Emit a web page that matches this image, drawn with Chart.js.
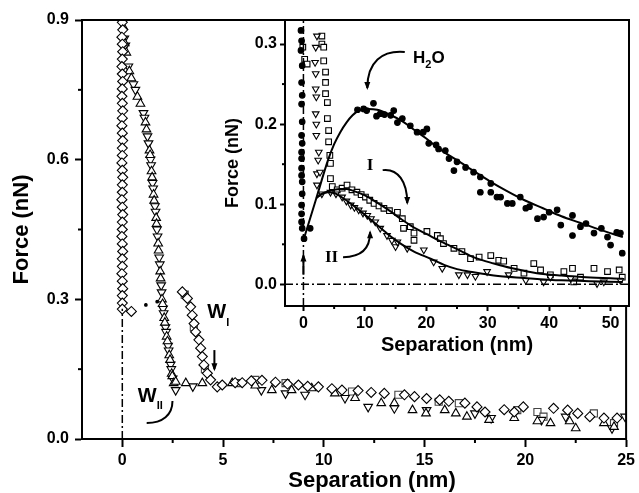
<!DOCTYPE html>
<html>
<head>
<meta charset="utf-8">
<script src="https://cdn.jsdelivr.net/npm/chart.js@4.4.0/dist/chart.umd.min.js"></script>
<style>
  html, body { margin: 0; padding: 0; background: #fff; }
  #wrap { position: relative; width: 639px; height: 493px; }
  #main { position: absolute; left: 0; top: 0; }
  #inset { position: absolute; left: 220px; top: 0; }
</style>
</head>
<body>
<div id="wrap">
  <canvas id="main" width="639" height="493"></canvas>
  <canvas id="inset" width="419" height="360"></canvas>
</div>
<script>
// ---- main plot data (separation nm, force nN) ----
const mainXTicks = [0, 5, 10, 15, 20, 25];
const mainXMinor = [2.5, 7.5, 12.5, 17.5, 22.5];
const mainYTicks = [0, 0.3, 0.6, 0.9];
const mainYMinor = [0.15, 0.45, 0.75];

const mainDiamond = [
  [0,0.895],[0.02,0.879],[-0.02,0.863],[0,0.848],[0.02,0.832],[0,0.816],[-0.02,0.8],[0,0.784],
  [0.02,0.768],[0,0.752],[-0.02,0.736],[0,0.721],[0.02,0.705],[0,0.689],[-0.02,0.673],[0,0.657],
  [0.02,0.641],[0,0.625],[0,0.609],[-0.02,0.593],[0,0.577],[0.02,0.562],[0,0.546],[0,0.53],
  [-0.02,0.514],[0,0.498],[0.02,0.482],[0,0.466],[0,0.45],[-0.02,0.435],[0,0.419],[0.02,0.403],
  [0,0.387],[0,0.371],[-0.02,0.355],[0,0.339],[0.02,0.323],[0,0.308],[0,0.292],[0,0.279],
  [0.45,0.274],
  [2.98,0.316],[3.23,0.302],[3.39,0.284],[3.47,0.266],[3.56,0.248],[3.64,0.23],[3.8,0.213],
  [3.89,0.195],[3.97,0.177],[4.05,0.159],[4.22,0.141],[4.38,0.127],[4.71,0.112],[4.96,0.116],
  [5.6,0.121],[5.95,0.121],[6.4,0.125],[6.93,0.126],[7.6,0.122],[8.2,0.118],[8.74,0.116],
  [9.2,0.113],[9.73,0.112],[10.4,0.108],[10.9,0.105],[11.7,0.104],[12.35,0.1],[13.0,0.098],
  [14.0,0.095],[14.5,0.091],[15.1,0.087],[15.75,0.084],[16.2,0.081],[17.0,0.077],[17.6,0.069],
  [18.0,0.058],[18.95,0.063],[19.45,0.058],[19.9,0.069],[21.4,0.066],[22.1,0.062],[22.6,0.055],
  [23.2,0.048],[23.9,0.045],[24.55,0.045]
];
const mainTriUp = [
  [0.05,0.885],[0.12,0.85],[0.2,0.83],[0.35,0.79],[0.45,0.775],[0.75,0.735],[0.9,0.72],[1.15,0.68],
  [1.2,0.665],[1.35,0.62],[1.38,0.61],[1.45,0.575],[1.48,0.562],[1.55,0.525],[1.58,0.512],
  [1.68,0.475],[1.7,0.462],[1.78,0.42],[1.8,0.405],[1.88,0.36],[1.9,0.345],[1.97,0.3],[2.0,0.29],
  [2.08,0.26],[2.11,0.25],[2.2,0.22],[2.24,0.21],[2.33,0.18],[2.37,0.17],[2.45,0.14],[2.48,0.135],
  [2.55,0.12],[2.65,0.123],[3.15,0.12],[3.97,0.12],[5.45,0.12],[6.6,0.115],[7.42,0.105],[8.4,0.105],
  [9.4,0.109],[10.55,0.098],[11.55,0.088],[12.85,0.077],[13.5,0.077],[14.4,0.062],[15.07,0.055],
  [16.0,0.062],[16.55,0.055],[17.1,0.048],[18.2,0.041],[19.45,0.045],[20.6,0.038],[21.25,0.034],
  [22.2,0.038],[22.5,0.023],[23.9,0.034],[24.4,0.026]
];
const mainTriDown = [
  [0.1,0.86],[0.15,0.845],[0.3,0.8],[0.55,0.762],[0.65,0.75],[1.05,0.7],[1.1,0.69],[1.25,0.65],
  [1.3,0.635],[1.4,0.6],[1.43,0.588],[1.5,0.55],[1.53,0.538],[1.62,0.5],[1.65,0.488],[1.72,0.45],
  [1.75,0.435],[1.83,0.39],[1.86,0.375],[1.93,0.33],[1.95,0.315],[2.02,0.28],[2.05,0.27],[2.14,0.24],
  [2.17,0.23],[2.27,0.2],[2.3,0.19],[2.4,0.16],[2.43,0.15],[2.5,0.13],
  [2.65,0.105],[3.5,0.113],[6.9,0.105],[8.1,0.098],[9.07,0.095],[11.05,0.088],[12.2,0.069],
  [13.5,0.066],[15.1,0.062],[17.5,0.055],[18.3,0.045],[20.8,0.041],[22.0,0.048],[24.3,0.023],[24.95,0.048]
];
const mainSquare = [
  [3.1,0.31],[3.55,0.24],[4.1,0.15],[5.78,0.12],[6.6,0.127],[8.1,0.12],[11.4,0.102],[13.7,0.095],
  [15.7,0.08],[16.7,0.077],[19.6,0.062],[20.6,0.058],[20.9,0.048],[23.4,0.055],[24.4,0.034]
];
const mainDots = [[1.17,0.288],[1.73,0.295]];
const mainZeroLine = [[0,0],[0,0.28]];

// ---- inset data ----
const insetXTicks = [0, 10, 20, 30, 40, 50];
const insetXMinor = [5, 15, 25, 35, 45];
const insetYTicks = [0, 0.1, 0.2, 0.3];
const insetYMinor = [0.05, 0.15, 0.25];

const h2oPoints = [
  [-0.4,0.317],[-0.3,0.304],[-0.4,0.292],[-0.2,0.273],[-0.3,0.252],[-0.2,0.236],[-0.3,0.225],
  [-0.2,0.203],[-0.3,0.186],[-0.2,0.176],[-0.3,0.165],[-0.3,0.157],[-0.3,0.145],[-0.3,0.136],
  [-0.2,0.128],[-0.2,0.113],[-0.3,0.099],[-0.3,0.088],[-0.3,0.078],[-0.2,0.07],[0.1,0.057],[1.1,0.07],
  [8.8,0.218],[9.8,0.219],[10.3,0.217],[11.4,0.226],[11.9,0.21],[12.5,0.213],[13.2,0.212],[14.2,0.211],
  [14.7,0.217],[15.3,0.202],[16.1,0.207],[17.4,0.198],[18.5,0.19],[19.5,0.19],[20.1,0.194],[20.4,0.176],
  [21.6,0.174],[22.0,0.169],[23.1,0.167],[23.7,0.157],[24.5,0.142],[25.0,0.153],[26.4,0.146],
  [27.7,0.14],[28.8,0.134],[28.8,0.115],[30.5,0.126],[30.5,0.115],[31.5,0.109],[32.1,0.109],
  [33.2,0.101],[34.0,0.101],[35.3,0.109],[36.2,0.095],[36.8,0.097],[38.1,0.082],[39.1,0.084],
  [40.0,0.09],[41.3,0.093],[41.9,0.074],[43.8,0.086],[43.8,0.061],[45.1,0.072],[46.0,0.076],
  [47.3,0.064],[48.5,0.07],[49.5,0.059],[50.0,0.049],[51.0,0.065],[51.6,0.064],[51.9,0.039]
];
const h2oFit = [
  [0,0.055],[2,0.105],[4,0.155],[5,0.175],[6,0.19],[7,0.202],[8,0.211],[9,0.217],[10.5,0.219],
  [12,0.218],[14,0.212],[16,0.204],[18,0.193],[20,0.182],[22.3,0.168],[25,0.155],[28,0.14],
  [30.5,0.128],[33,0.117],[36,0.105],[39,0.095],[42,0.085],[45,0.077],[48,0.069],[52,0.059]
];
const sampleIPoints = [
  [-0.1,0.296],[0.2,0.281],[0.6,0.275],[3.0,0.31],[3.0,0.3],[3.3,0.296],[3.3,0.279],[3.6,0.265],
  [3.6,0.252],[3.6,0.238],[3.9,0.227],[3.9,0.207],[4.1,0.192],[4.1,0.178],[4.3,0.161],[4.4,0.151],
  [4.4,0.132],[4.7,0.122],[5.5,0.118],[6.3,0.12],[7.1,0.124],[7.9,0.118],[8.7,0.115],[9.4,0.112],
  [10.1,0.109],[10.8,0.105],[11.5,0.101],[12.3,0.098],[13.1,0.095],[14.0,0.092],[15.3,0.09],
  [16.1,0.082],[16.3,0.07],[17.4,0.072],[18.0,0.055],[18.0,0.064],[20.1,0.066],[21.8,0.061],
  [22.3,0.057],[22.8,0.051],[24.5,0.045],[25.8,0.041],[27.2,0.032],[28.6,0.034],[30.5,0.036],
  [31.8,0.03],[32.6,0.029],[34.3,0.02],[35.9,0.014],[37.5,0.026],[38.6,0.018],[40.2,0.012],
  [42.4,0.016],[43.8,0.02],[44.0,0.003],[45.1,0.009],[47.3,0.02],[49.5,0.016],[51.4,0.018],[51.9,0.009]
];
const sampleIFit = [
  [2.1,0.108],[3,0.113],[4,0.116],[5,0.118],[6,0.119],[7,0.119],[8,0.117],[10,0.111],[12,0.102],
  [14,0.092],[16,0.081],[18,0.071],[20,0.063],[22.5,0.053],[25,0.044],[28,0.033],[31,0.026],
  [34,0.02],[38,0.014],[42,0.011],[46,0.009],[52,0.007]
];
const sampleIIPoints = [
  [2.2,0.31],[2.0,0.296],[1.9,0.277],[2.0,0.263],[2.0,0.244],[2.1,0.234],[2.0,0.213],[2.1,0.2],
  [2.1,0.186],[2.5,0.165],[2.4,0.155],[2.2,0.138],[2.7,0.14],[2.2,0.124],[3.0,0.113],[4.4,0.115],
  [5.3,0.113],[6.3,0.109],[7.0,0.104],[7.7,0.099],[8.3,0.096],[9.0,0.093],[9.7,0.089],[10.4,0.086],
  [11.0,0.082],[11.7,0.078],[12.5,0.07],[13.6,0.061],[14.4,0.055],[15.0,0.047],[15.3,0.053],
  [16.9,0.045],[19.6,0.043],[21.2,0.028],[22.6,0.02],[25.3,0.012],[26.7,0.012],[28.0,0.01],
  [29.9,0.016],[33.4,0.012],[36.2,0.005],[39.1,0.003],[40.2,0.009],[43.5,0.0075],[47.8,0.001],
  [48.9,0.003],[51.6,0.005]
];
const sampleIIFit = [
  [2.1,0.108],[3,0.113],[4,0.115],[5,0.114],[6,0.11],[8,0.099],[10,0.087],[12,0.074],[14,0.061],
  [16,0.05],[18,0.041],[20.7,0.032],[23,0.024],[25,0.019],[27.7,0.015],[31,0.011],[36,0.008],
  [42,0.005],[52,0.003]
];
const insetZeroH = [[-3,0],[53,0]];
const insetZeroV = [[0,-0.027],[0,0.33]];

// labels & arrows, in data units of each plot
const SANS = '"Liberation Sans", Arial, sans-serif';
const SERIF = '"Liberation Serif", "Times New Roman", serif';
const mainNotes = [
  {x: 4.22, y: 0.26, parts: [['W', 'bold 20px ' + SANS, 0], ['I', 'bold 11px ' + SANS, 8]]},
  {x: 0.77, y: 0.0795, parts: [['W', 'bold 20px ' + SANS, 0], ['II', 'bold 11px ' + SANS, 7]]}
];
const mainArrows = [
  {pts: [[4.57,0.191],[4.57,0.15]], head: true},
  {pts: [[1.21,0.0344],[2.0,0.0344],[2.49,0.0515],[2.49,0.0816]], head: false}
];
const insetNotes = [
  {x: 17.85, y: 0.276, parts: [['H', 'bold 17px ' + SANS, 0], ['2', 'bold 11px ' + SANS, 5], ['O', 'bold 17px ' + SANS, 0]]},
  {x: 10.3, y: 0.1426, parts: [['I', 'bold 17px ' + SERIF, 0]]},
  {x: 3.5, y: 0.0278, parts: [['II', 'bold 17px ' + SERIF, 0]]}
];
const insetArrows = [
  {pts: [[16.5,0.29],[12.8,0.2925],[10.4,0.2775],[10.4,0.245]], head: true},
  {pts: [[12.9,0.1426],[15.4,0.145],[16.9,0.128],[16.9,0.1015]], head: true},
  {pts: [[6.45,0.034],[9.2,0.034],[10.85,0.043],[10.85,0.065]], head: true},
  {pts: [[0,0.012],[0,0.036]], head: true}
];

Chart.defaults.color = '#000';
Chart.defaults.font.family = SANS;

function makeDeco(cfg) {
  return {
    id: 'deco',
    beforeDraw(chart) {
      if (!cfg.fill) return;
      const a = chart.chartArea, ctx = chart.ctx;
      ctx.save();
      ctx.fillStyle = '#fff';
      ctx.fillRect(a.left, a.top, a.right - a.left, a.bottom - a.top);
      ctx.restore();
    },
    afterDraw(chart) {
      const ctx = chart.ctx, a = chart.chartArea;
      const sx = chart.scales.x, sy = chart.scales.y;
      const X = v => sx.getPixelForValue(v), Y = v => sy.getPixelForValue(v);
      ctx.save();
      ctx.strokeStyle = '#000';
      ctx.fillStyle = '#000';
      ctx.lineWidth = 2;
      ctx.strokeRect(a.left, a.top, a.right - a.left, a.bottom - a.top);

      cfg.minorX.forEach(v => {
        ctx.beginPath(); ctx.moveTo(X(v), a.bottom); ctx.lineTo(X(v), a.bottom + cfg.minorLen); ctx.stroke();
      });
      cfg.minorY.forEach(v => {
        ctx.beginPath(); ctx.moveTo(a.left, Y(v)); ctx.lineTo(a.left - cfg.minorLen, Y(v)); ctx.stroke();
      });

      cfg.arrows.forEach(ar => {
        const p = ar.pts.map(q => [X(q[0]), Y(q[1])]);
        ctx.beginPath();
        ctx.moveTo(p[0][0], p[0][1]);
        if (p.length === 4) ctx.bezierCurveTo(p[1][0], p[1][1], p[2][0], p[2][1], p[3][0], p[3][1]);
        else ctx.lineTo(p[1][0], p[1][1]);
        ctx.stroke();
        if (ar.head) {
          const e = p[p.length - 1], f = p[p.length - 2];
          const ang = Math.atan2(e[1] - f[1], e[0] - f[0]);
          ctx.beginPath();
          ctx.moveTo(e[0] + Math.cos(ang) * 2, e[1] + Math.sin(ang) * 2);
          ctx.lineTo(e[0] - Math.cos(ang) * 6 - Math.sin(ang) * 3, e[1] - Math.sin(ang) * 6 + Math.cos(ang) * 3);
          ctx.lineTo(e[0] - Math.cos(ang) * 6 + Math.sin(ang) * 3, e[1] - Math.sin(ang) * 6 - Math.cos(ang) * 3);
          ctx.closePath();
          ctx.fill();
        }
      });

      ctx.textBaseline = 'alphabetic';
      ctx.textAlign = 'left';
      cfg.notes.forEach(n => {
        let px = X(n.x);
        const py = Y(n.y);
        n.parts.forEach(([t, font, dy]) => {
          ctx.font = font;
          ctx.fillText(t, px, py + dy);
          px += ctx.measureText(t).width;
        });
      });

      if (cfg.title) {
        ctx.font = cfg.title.font;
        ctx.textAlign = 'center';
        ctx.fillText(cfg.title.text, cfg.title.x, cfg.title.y);
      }
      ctx.restore();
    }
  };
}

function pts(data, style, r, extra) {
  return Object.assign({
    data: data, showLine: false, pointStyle: style, pointRadius: r,
    pointBackgroundColor: '#fff', pointBorderColor: '#000', pointBorderWidth: 1.1
  }, extra || {});
}
function line(data, extra) {
  return Object.assign({
    data: data, showLine: true, pointRadius: 0, borderColor: '#000', borderWidth: 2,
    cubicInterpolationMode: 'monotone', fill: false
  }, extra || {});
}
function axis(min, max, ticks, tickLen, pad, size, horizontal, title) {
  return {
    type: 'linear', min: min, max: max,
    afterBuildTicks: s => { s.ticks = ticks.map(v => ({value: v})); },
    afterFit: s => { if (horizontal) s.height = size; else s.width = size; },
    ticks: {
      font: {size: 16, weight: 'bold'}, color: '#000', padding: pad,
      callback: v => horizontal ? String(v) : v.toFixed(1)
    },
    grid: {drawOnChartArea: false, tickLength: tickLen, tickWidth: 2, tickColor: '#000'},
    border: {color: '#000', width: 2},
    title: title || {display: false}
  };
}
const dashDot = {borderWidth: 1.5, borderDash: [8, 3, 2, 3], cubicInterpolationMode: 'default'};

new Chart(document.getElementById('main'), {
  type: 'scatter',
  data: {
    datasets: [
      line(mainZeroLine, dashDot),
      pts(mainDiamond, 'rectRot', 5),
      pts(mainTriUp, 'triangle', 5),
      pts(mainTriDown, 'triangle', 5, {pointRotation: 180}),
      pts(mainSquare, 'rect', 5, {pointBorderColor: '#444'}),
      pts(mainDots, 'circle', 1.3, {pointBackgroundColor: '#000'})
    ]
  },
  options: {
    responsive: false, animation: false,
    layout: {padding: {top: 20, right: 10, left: 0, bottom: 0}},
    plugins: {legend: {display: false}, tooltip: {enabled: false}},
    scales: {
      x: axis(-2, 25, mainXTicks, 8, 4, 54, true),
      y: axis(0, 0.9, mainYTicks, 7, 6, 82, false,
        {display: true, text: 'Force (nN)', font: {size: 22, weight: 'bold'}, color: '#000', padding: {top: 9}})
    }
  },
  plugins: [makeDeco({
    fill: false, minorX: mainXMinor, minorY: mainYMinor, minorLen: 4,
    arrows: mainArrows, notes: mainNotes,
    title: {text: 'Separation (nm)', x: 372, y: 487, font: 'bold 22px ' + SANS}
  })]
});

new Chart(document.getElementById('inset'), {
  type: 'scatter',
  data: {
    datasets: [
      line(h2oFit),
      line(sampleIFit),
      line(sampleIIFit),
      line(insetZeroH, dashDot),
      line(insetZeroV, dashDot),
      pts(h2oPoints, 'circle', 2.8, {pointBackgroundColor: '#000'}),
      pts(sampleIIPoints, 'triangle', 3.8, {pointRotation: 180}),
      pts(sampleIPoints, 'rect', 4)
    ]
  },
  options: {
    responsive: false, animation: false,
    layout: {padding: {top: 20, right: 10, left: 0, bottom: 0}},
    plugins: {legend: {display: false}, tooltip: {enabled: false}},
    scales: {
      x: axis(-3, 53, insetXTicks, 5, 3, 54, true,
        {display: true, text: 'Separation (nm)', font: {size: 20, weight: 'bold'}, color: '#000', padding: {top: 0, bottom: 3}}),
      y: axis(-0.027, 0.33, insetYTicks, 5, 3, 65, false,
        {display: true, text: 'Force (nN)', font: {size: 18, weight: 'bold'}, color: '#000', padding: {top: 2}})
    }
  },
  plugins: [makeDeco({
    fill: true, minorX: insetXMinor, minorY: insetYMinor, minorLen: 3,
    arrows: insetArrows, notes: insetNotes
  })]
});
</script>
</body>
</html>
